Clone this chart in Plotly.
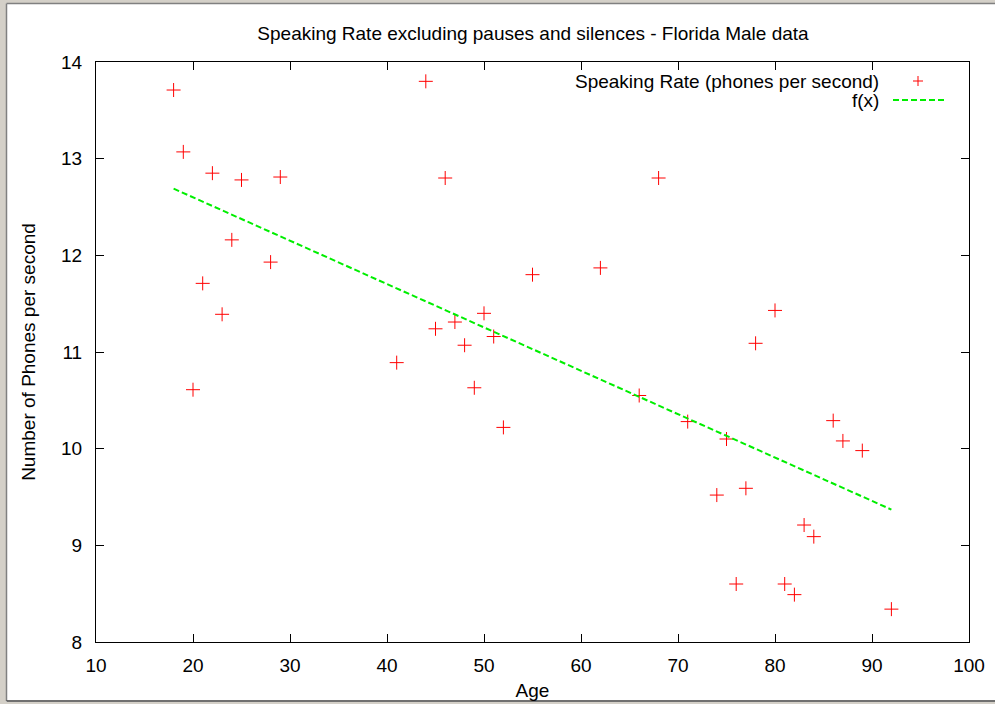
import plotly.graph_objects as go

# Age of each speaker and measured speaking rate (phones per second)
ages = [18, 19, 20, 21, 22, 23, 24, 25, 28, 29,
        41, 44, 45, 46, 47, 48, 49, 50, 51, 52,
        55, 62, 66, 68, 71, 74, 75, 76, 77, 78,
        80, 81, 82, 83, 84, 86, 87, 89, 92]
rates = [13.71, 13.07, 10.61, 11.71, 12.85, 11.39, 12.16, 12.78, 11.93, 12.81,
         10.89, 13.80, 11.24, 12.80, 11.31, 11.07, 10.63, 11.40, 11.16, 10.22,
         11.80, 11.87, 10.55, 12.80, 10.28, 9.52, 10.10, 8.60, 9.59, 11.09,
         11.43, 8.60, 8.49, 9.21, 9.09, 10.29, 10.08, 9.98, 8.34]

# Fitted line f(x), evaluated at the ends of the age range
fit_x = [18, 92]
fit_y = [12.69, 9.37]

x_ticks = [10, 20, 30, 40, 50, 60, 70, 80, 90, 100]
y_ticks = [8, 9, 10, 11, 12, 13, 14]

FONT = "Liberation Sans, Arial, sans-serif"
FS = 19
L, R, T, B = 96, 26, 62, 62
W, H = 995, 704
PW, PH = W - L - R, H - T - B


def px(x):
    return (x - L) / PW


def py(y):
    return (H - B - y) / PH


fig = go.Figure()
fig.add_trace(go.Scatter(
    x=ages, y=rates, mode="markers",
    marker=dict(symbol="cross-thin", size=10, line=dict(color="#ff0000", width=1)),
    showlegend=False, cliponaxis=False,
))
fig.add_trace(go.Scatter(
    x=fit_x, y=fit_y, mode="lines",
    line=dict(color="#00ee00", width=2, dash="6px,3px"),
    showlegend=False,
))

shapes = []
# key glyphs
cx, cy = 918, 81
shapes.append(dict(type="line", xref="paper", yref="paper",
                   x0=px(cx - 5), x1=px(cx + 5), y0=py(cy), y1=py(cy),
                   line=dict(color="#ff0000", width=1)))
shapes.append(dict(type="line", xref="paper", yref="paper",
                   x0=px(cx), x1=px(cx), y0=py(cy - 5), y1=py(cy + 5),
                   line=dict(color="#ff0000", width=1)))
shapes.append(dict(type="line", xref="paper", yref="paper",
                   x0=px(893), x1=px(946), y0=py(100), y1=py(100),
                   line=dict(color="#00ee00", width=2, dash="6px,3px")))

# window frame
frame = "#d4d0c8"
edge = "#808080"
shapes.append(dict(type="rect", xref="paper", yref="paper", layer="above",
                   x0=px(-5), x1=px(6), y0=py(-5), y1=py(710),
                   fillcolor=frame, line=dict(width=0)))
shapes.append(dict(type="rect", xref="paper", yref="paper", layer="above",
                   x0=px(-5), x1=px(1000), y0=py(3), y1=py(-5),
                   fillcolor=frame, line=dict(width=0)))
shapes.append(dict(type="line", xref="paper", yref="paper", layer="above",
                   x0=px(6.5), x1=px(6.5), y0=py(3.5), y1=py(701),
                   line=dict(color=edge, width=1.5)))
shapes.append(dict(type="line", xref="paper", yref="paper", layer="above",
                   x0=px(6.5), x1=px(1000), y0=py(3.5), y1=py(3.5),
                   line=dict(color=edge, width=1.5)))
shapes.append(dict(type="rect", xref="paper", yref="paper", layer="above",
                   x0=px(-5), x1=px(1000), y0=py(702), y1=py(710),
                   fillcolor=frame, line=dict(width=0)))
shapes.append(dict(type="line", xref="paper", yref="paper", layer="above",
                   x0=px(6.5), x1=px(1000), y0=py(701), y1=py(701),
                   line=dict(color="#404040", width=1.5)))

annotations = [
    dict(text="Speaking Rate (phones per second)", xref="paper", yref="paper",
         x=px(881), y=py(81), xanchor="right", yanchor="middle", showarrow=False,
         font=dict(family=FONT, size=FS, color="#000000")),
    dict(text="f(x)", xref="paper", yref="paper",
         x=px(881), y=py(101), xanchor="right", yanchor="middle", showarrow=False,
         font=dict(family=FONT, size=FS, color="#000000")),
]

axis_common = dict(
    showgrid=False, zeroline=False, showline=True, linecolor="#000000", linewidth=1,
    mirror="ticks", ticks="inside", ticklen=8, tickwidth=1, tickcolor="#000000",
    tickfont=dict(family=FONT, size=FS, color="#000000"), automargin=False,
)

fig.update_layout(
    width=W, height=H,
    margin=dict(l=L, r=R, t=T, b=B),
    paper_bgcolor="#ffffff", plot_bgcolor="#ffffff",
    title=dict(text="Speaking Rate excluding pauses and silences - Florida Male data",
               x=(253 + 813) / 2 / W, xanchor="center", y=1 - 33 / H, yanchor="middle",
               font=dict(family=FONT, size=FS, color="#000000")),
    xaxis=dict(range=[10, 100], tickvals=x_ticks, ticklabelstandoff=6,
               title=dict(text="Age", standoff=8,
                          font=dict(family=FONT, size=FS, color="#000000")),
               **axis_common),
    yaxis=dict(range=[8, 14], tickvals=y_ticks, ticklabelstandoff=9,
               title=dict(text="Number of Phones per second", standoff=20,
                          font=dict(family=FONT, size=FS, color="#000000")),
               **axis_common),
    shapes=shapes, annotations=annotations,
)

fig.write_html("out.html")
